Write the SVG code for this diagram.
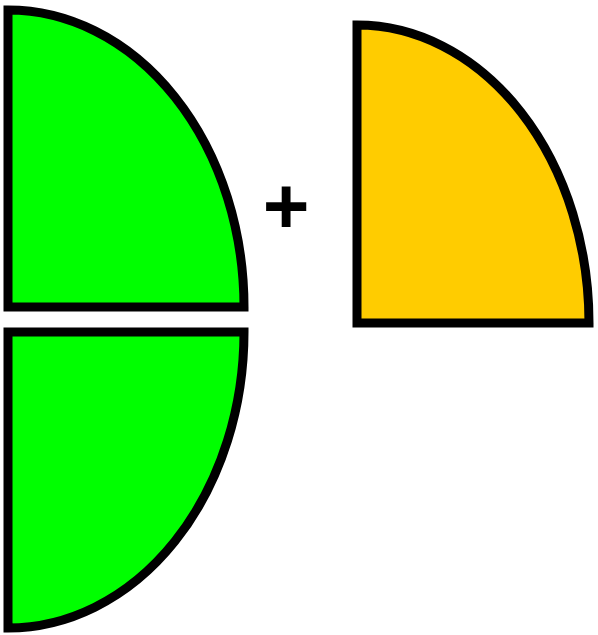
<svg xmlns="http://www.w3.org/2000/svg" width="598" height="635" viewBox="0 0 598 635">
<style>
.s{stroke:#000;stroke-width:9;stroke-linejoin:miter}
.g{fill:#00ff00}
.o{fill:#ffcc00}
.t{font-family:"Liberation Sans",Arial,sans-serif;font-size:80px;font-weight:600;fill:#000}
</style>
<rect width="598" height="635" fill="#fff"/>
<g id="green-top"><path class="s g" d="M8,10 A236,297 0 0 1 244,307 L8,307 Z"/></g>
<g id="green-bottom"><path class="s g" d="M8,332 L244,332 A236,296 0 0 1 8,628 Z"/></g>
<g id="orange"><path class="s o" d="M357,25 A232,298 0 0 1 589,323 L357,323 Z"/></g>
<g id="plus"><text class="t" x="286" y="233" text-anchor="middle">+</text></g>
</svg>
